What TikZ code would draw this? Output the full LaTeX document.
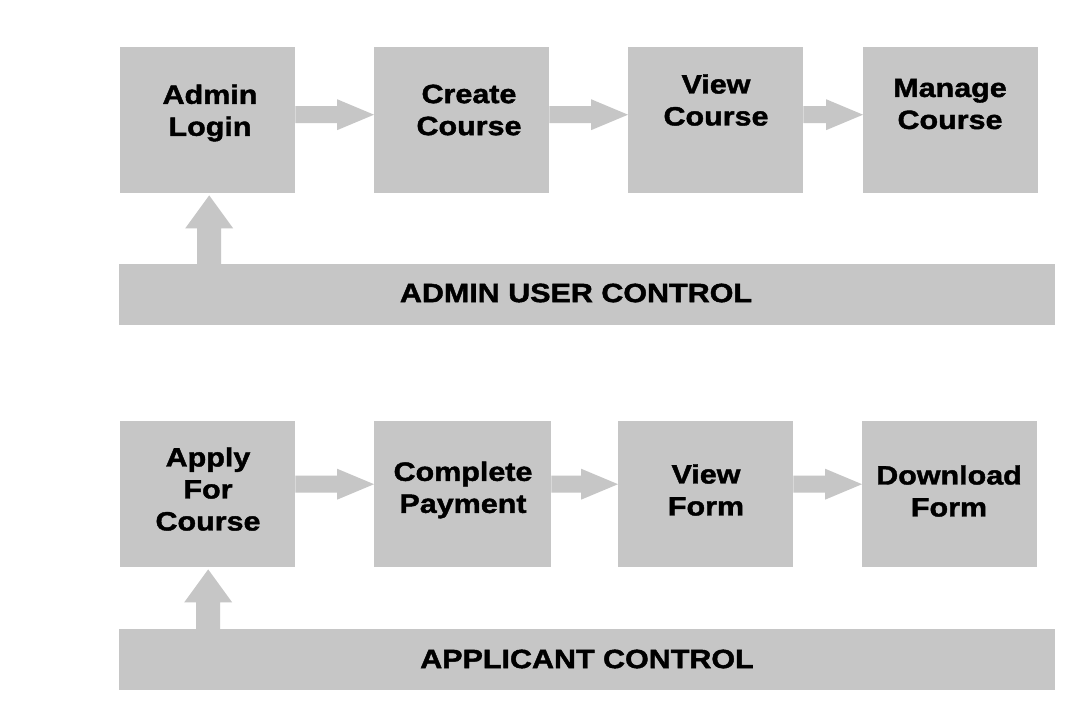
\documentclass[tikz,border=0pt]{standalone}
\usepackage{fontspec}
\setmainfont{Liberation Sans}[BoldFeatures={FakeStretch=1.15,FakeBold=1.6}]
\usetikzlibrary{calc}
\definecolor{boxgray}{HTML}{C6C6C6}
\tikzset{
  box/.style={rectangle, fill=boxgray, inner sep=0pt, anchor=north west, minimum height=146pt},
  bar/.style={rectangle, fill=boxgray, inner sep=0pt, anchor=north west, minimum width=936pt, minimum height=61pt},
  lbl/.style={align=center, font=\fontsize{26.5}{32}\selectfont\bfseries, inner sep=0pt},
  arr/.style={fill=boxgray}
}
\newcommand{\harr}[3]{%
  \coordinate (s) at ($(#1.east)+(0,#3)$);
  \coordinate (t) at ($(#2.west)+(0,#3)$);
  \fill[arr] ($(s)+(0,-8.5)$) -- ($(t)+(-37,-8.5)$) -- ($(t)+(-37,-15.5)$) -- (t)
    -- ($(t)+(-37,15.5)$) -- ($(t)+(-37,8.5)$) -- ($(s)+(0,8.5)$) -- cycle;
}
\newcommand{\varr}[3]{%
  \coordinate (ut) at ($(#1.south)+(#3,2)$);
  \coordinate (ub) at (ut |- #2.north);
  \fill[arr] ($(ub)+(-12,0)$) -- ($(ut)+(-12,33)$) -- ($(ut)+(-24,33)$) -- (ut)
    -- ($(ut)+(24,33)$) -- ($(ut)+(12,33)$) -- ($(ub)+(12,0)$) -- cycle;
}
\begin{document}
\begin{tikzpicture}[x=1pt,y=-1pt]
\useasboundingbox[fill=white] (0,0) rectangle (1080,720);
% row 1
\node[box, minimum width=175pt] (a1) at (120,47) {};
\node[box, minimum width=175pt] (a2) at (374,47) {};
\node[box, minimum width=175pt] (a3) at (628,47) {};
\node[box, minimum width=175pt] (a4) at (863,47) {};
\node[bar] (ab) at (119,264) {};
% row 2
\node[box, minimum width=175pt] (b1) at (120,421) {};
\node[box, minimum width=177pt] (b2) at (374,421) {};
\node[box, minimum width=175pt] (b3) at (618,421) {};
\node[box, minimum width=175pt] (b4) at (862,421) {};
\node[bar] (bb) at (119,629) {};
% labels
\node[lbl] (ta1) at (210,113) {Admin\\Login};
\node[lbl] (ta2) at (469,110) {Create\\Course};
\node[lbl] (ta3) at (716,100) {View\\Course};
\node[lbl] (ta4) at (950,104) {Manage\\Course};
\node[lbl] (tab) at (576,293) {ADMIN USER CONTROL};
\node[lbl] (tb1) at (208,489) {Apply\\For\\Course};
\node[lbl] (tb2) at (463,490) {Complete\\Payment};
\node[lbl] (tb3) at (706,490) {View\\Form};
\node[lbl] (tb4) at (949,491) {Download\\Form};
\node[lbl] (tbb) at (587,659) {APPLICANT CONTROL};
% arrows
\harr{a1}{a2}{-5.5}
\harr{a2}{a3}{-5.5}
\harr{a3}{a4}{-5.5}
\harr{b1}{b2}{-10}
\harr{b2}{b3}{-10}
\harr{b3}{b4}{-10}
\varr{a1}{ab}{1.5}
\varr{b1}{bb}{0.5}
\end{tikzpicture}
\end{document}
